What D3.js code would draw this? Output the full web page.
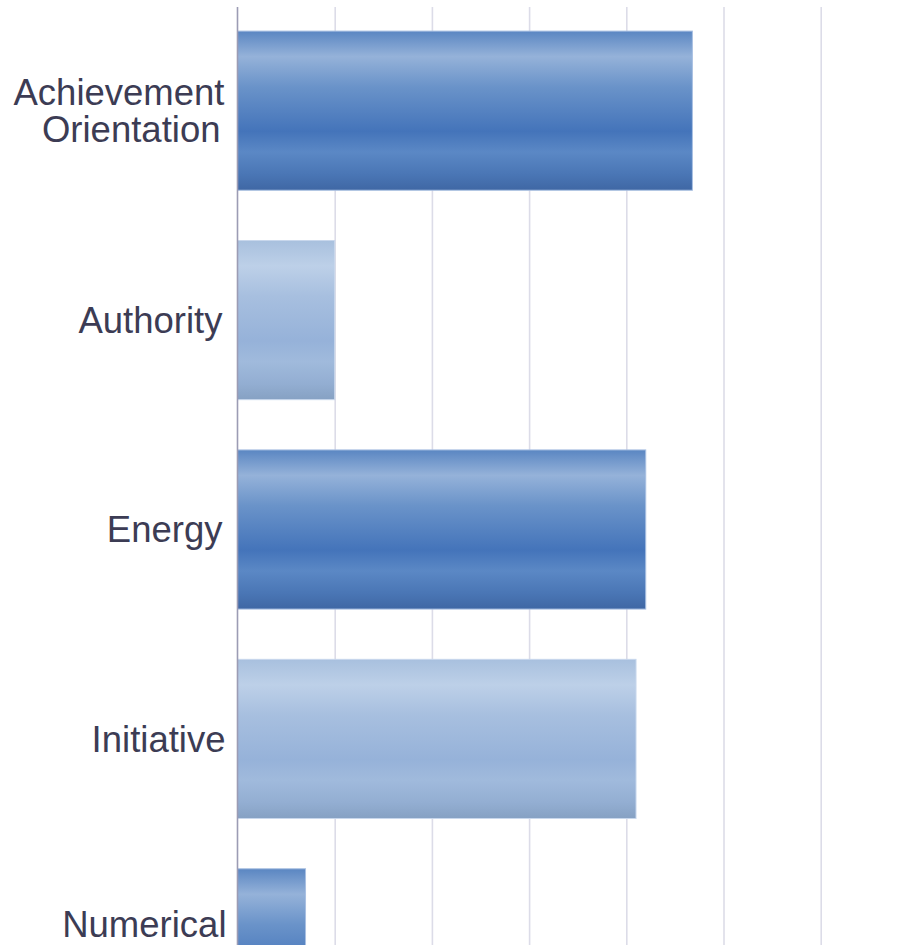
<!DOCTYPE html>
<html>
<head>
<meta charset="utf-8">
<script src="https://cdn.jsdelivr.net/npm/d3@7"></script>
<style>
  html, body { margin: 0; padding: 0; background: #ffffff; }
  svg { display: block; }
</style>
</head>
<body>
<svg id="chart" width="903" height="945"></svg>
<script>
// ---- data ----
const categories = ["Achievement Orientation", "Authority", "Energy", "Initiative", "Numerical"];
const labelLines = [["Achievement", "Orientation"], ["Authority"], ["Energy"], ["Initiative"], ["Numerical"]];
const values = [4.68, 1.0, 4.2, 4.1, 0.7];
const shades = ["dark", "light", "dark", "light", "dark"];
const gridTicks = [0, 1, 2, 3, 4, 5, 6, 7];

// ---- layout ----
const svg = d3.select("#chart");
const x0 = 237.5, unit = 97.2;
const plotTop = 7, plotBottom = 1052;

const x = d3.scaleLinear().domain([0, 7]).range([x0, x0 + 7 * unit]);
const y = d3.scaleBand().domain(categories).range([plotTop, plotBottom])
  .paddingInner(0.24).paddingOuter(0.115);

// gradients
const defs = svg.append("defs");
const gradStops = {
  dark: [[0, "#5a86c2"], [0.16, "#95b2d9"], [0.35, "#6a93c9"], [0.63, "#4474ba"], [0.76, "#5b88c5"], [0.9, "#4a76b5"], [1, "#3f67a4"]],
  light: [[0, "#a8c0de"], [0.16, "#bdd0e8"], [0.35, "#a7bfdf"], [0.63, "#96b2d9"], [0.76, "#a0badc"], [0.9, "#93aed2"], [1, "#86a1c3"]]
};
Object.entries(gradStops).forEach(([k, stops]) => {
  const g = defs.append("linearGradient").attr("id", "g-" + k)
    .attr("x1", 0).attr("y1", 0).attr("x2", 0).attr("y2", 1);
  stops.forEach(([o, c]) => g.append("stop").attr("offset", o).attr("stop-color", c));
});

// gridlines
const grid = svg.append("g").attr("transform", `translate(0,${plotTop})`)
  .call(d3.axisBottom(x).tickValues(gridTicks.slice(1)).tickSize(plotBottom - plotTop).tickFormat(""));
grid.select(".domain").remove();
grid.selectAll(".tick line").attr("stroke", "#dcdce8").attr("stroke-width", 1.6);

// bars
svg.append("g").selectAll("rect").data(categories).join("rect")
  .attr("x", x(0))
  .attr("y", d => y(d))
  .attr("width", (d, i) => x(values[i]) - x(0))
  .attr("height", y.bandwidth())
  .attr("fill", (d, i) => `url(#g-${shades[i]})`)
  .attr("stroke", (d, i) => shades[i] === "dark" ? "#a9c0e2" : "#c8d7ec")
  .attr("stroke-width", 1);

// y axis
const yAxis = svg.append("g").attr("transform", `translate(${x0},0)`)
  .call(d3.axisLeft(y).tickSize(0).tickPadding(13));
yAxis.select(".domain").attr("d", `M0,${plotTop}V${plotBottom}`).attr("stroke", "#9c9cb4").attr("stroke-width", 1.6);
const labelNudgeY = [0, 0, 0, 0, -24];
const lineNudgeX = [[0, -4], [-2], [-2], [1], [2]];
yAxis.selectAll(".tick text").each(function (d, i) {
  const t = d3.select(this);
  t.text(null)
    .attr("font-family", "'Liberation Sans', Arial, sans-serif")
    .attr("font-size", 36.5)
    .attr("fill", "#3c3c54")
    .attr("dy", null);
  const lines = labelLines[i];
  const lh = 37.5;
  const start = -(lines.length - 1) * lh / 2 + labelNudgeY[i];
  lines.forEach((ln, j) => {
    t.append("tspan").attr("x", -13 + lineNudgeX[i][j]).attr("y", start + j * lh).attr("dy", "0.35em").text(ln);
  });
});
</script>
</body>
</html>
